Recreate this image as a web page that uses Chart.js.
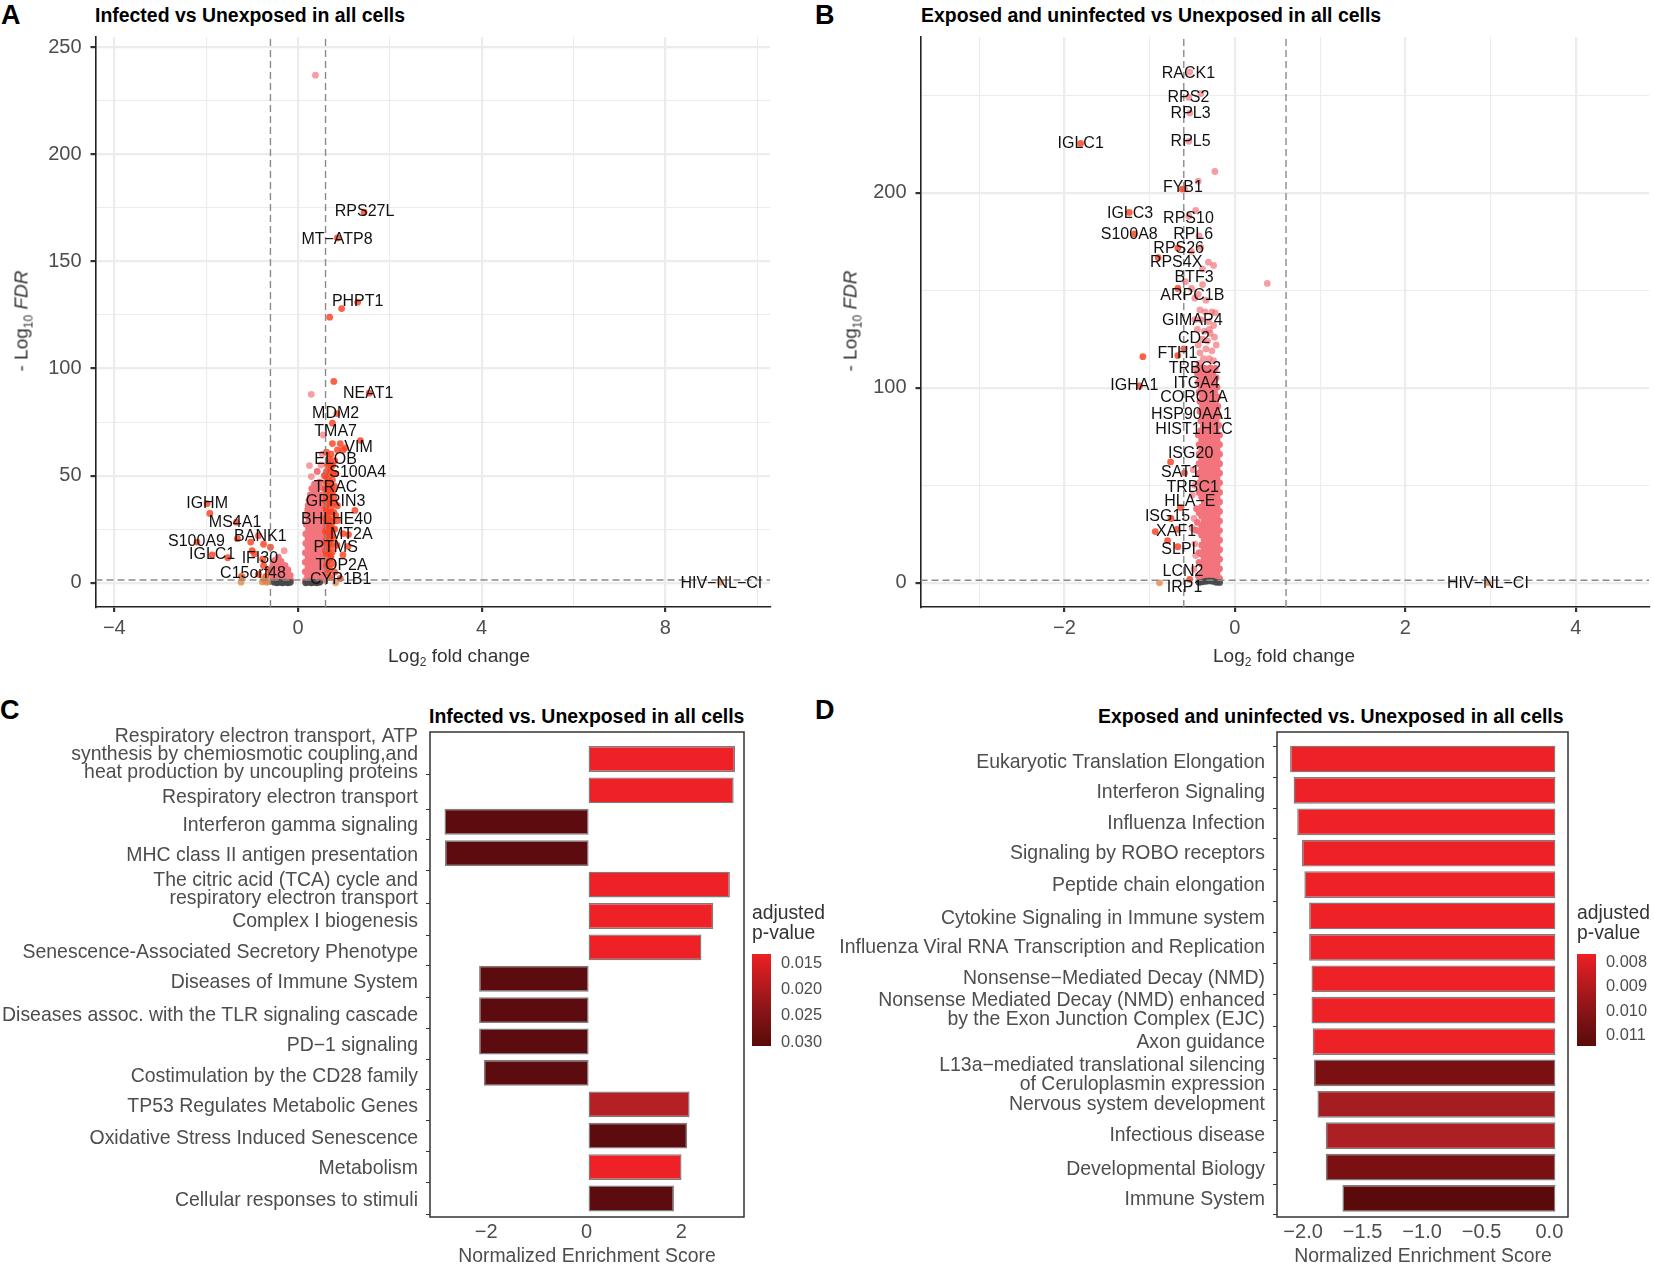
<!DOCTYPE html>
<html>
<head>
<meta charset="utf-8">
<title>Volcano plots and enrichment scores</title>
<script src="https://cdn.jsdelivr.net/npm/chart.js@4"></script>
<style>
  html, body { margin: 0; padding: 0; background: #fff; }
  body { position: relative; width: 1654px; height: 1267px; overflow: hidden; font-family: "Liberation Sans", Arial, sans-serif; }
  canvas { position: absolute; }
  .t { position: absolute; white-space: nowrap; line-height: 1; }
  .letter { font-weight: bold; font-size: 27px; color: #000; transform: translateY(-50%); }
  .title { font-weight: bold; font-size: 19.45px; color: #000; transform: translateY(-50%); }
  .axt { font-size: 19px; color: #333; transform: translate(-50%, -50%); }
  .gray { color: #4d4d4d; font-size: 19.4px; }
  .yt { transform: translate(-50%, -50%) rotate(-90deg); }
  sub { font-size: 12px; line-height: 0; }
  .leg { font-size: 19.3px; color: #333; line-height: 20px; transform: translateY(-50%); }
  .bar { position: absolute; top: 954px; height: 92px; width: 19px; background: linear-gradient(#ed2024, #8a1518 60%, #5a0a0a); }
  .lv { font-size: 16.4px; color: #4d4d4d; transform: translateY(-50%); }
</style>
</head>
<body>

<div class="t letter" style="left:1px;top:15px">A</div>
<div class="t letter" style="left:815px;top:15px">B</div>
<div class="t letter" style="left:0px;top:710px">C</div>
<div class="t letter" style="left:815px;top:710px">D</div>

<div class="t title" style="left:95px;top:16px">Infected vs Unexposed in all cells</div>
<div class="t title" style="left:921px;top:16px">Exposed and uninfected vs Unexposed in all cells</div>
<div class="t title" style="left:429px;top:717px">Infected vs. Unexposed in all cells</div>
<div class="t title" style="left:1098px;top:717px">Exposed and uninfected vs. Unexposed in all cells</div>

<canvas id="panelA" width="827" height="680" style="left:0;top:0"></canvas>
<canvas id="panelB" width="827" height="680" style="left:827px;top:0"></canvas>
<canvas id="panelC" width="827" height="567" style="left:0;top:700px"></canvas>
<canvas id="panelD" width="827" height="567" style="left:827px;top:700px"></canvas>

<div class="t axt" style="left:459px;top:655px">Log<sub>2</sub> fold change</div>
<div class="t axt" style="left:1284px;top:655px">Log<sub>2</sub> fold change</div>
<div class="t axt yt" style="left:21px;top:321px">- Log<sub>10</sub> <i>FDR</i></div>
<div class="t axt yt" style="left:850px;top:321px">- Log<sub>10</sub> <i>FDR</i></div>
<div class="t axt gray" style="left:587px;top:1256px">Normalized Enrichment Score</div>
<div class="t axt gray" style="left:1423px;top:1256px">Normalized Enrichment Score</div>

<div class="t leg" style="left:752px;top:923px">adjusted<br>p-value</div>
<div class="bar" style="left:752px"></div>
<div class="t lv" style="left:781px;top:962px">0.015</div>
<div class="t lv" style="left:781px;top:988px">0.020</div>
<div class="t lv" style="left:781px;top:1014px">0.025</div>
<div class="t lv" style="left:781px;top:1041px">0.030</div>

<div class="t leg" style="left:1577px;top:923px">adjusted<br>p-value</div>
<div class="bar" style="left:1577px"></div>
<div class="t lv" style="left:1606px;top:961px">0.008</div>
<div class="t lv" style="left:1606px;top:985px">0.009</div>
<div class="t lv" style="left:1606px;top:1010px">0.010</div>
<div class="t lv" style="left:1606px;top:1034px">0.011</div>

<script>
// Panel A points as [log2FC, -log10 FDR]
const aGrey = [[-.52,.3],[-.46,0],[-.4,.2],[-.34,0],[-.28,.3],[-.22,0],[-.17,.2],[.17,0],[.23,.3],[.29,0],[.35,.2],[.41,0],[.47,.3]];
const aTan = [[-1.24,.3],[-1.21,2.5],[-.78,.4],[-.72,.8],[-.68,.2],[-.63,.5],[-.75,1.8],[.82,0],[9.2,.3]];
const aRed = [[1.44,173],[.86,161],[1.3,131],[.95,128],[.69,124],[.78,94],[1.55,88.5],[.85,79],[.75,74.5],[1.36,66.4],[.75,65],[.92,65],[1.03,63],[.98,62],[.86,62],[.72,60],
  [.62,61],[.68,58],[.8,57],[.64,55],[.72,54],[.62,52],[.7,52],[.82,51],[.66,49],[.75,48],[.61,47],[.69,45],[.8,45],[.63,43],[.72,42],[.62,40],[.7,39],[.78,40],[.64,37],[.74,36],[.86,36],[1.24,33.8],
  [.61,35],[.68,33],[.78,33],[.63,31],[.72,30],[.86,29],[.61,28],[.68,27],[.75,25],[.62,25],[.7,23],[.98,23],[1.1,22.5],[.63,22],[.78,20.5],[.61,19.5],[.69,18],[.85,17.5],[1.09,17],[.64,16],[.75,14.5],[.62,13.5],[.98,13],[.7,11.5],[.64,10],[.75,9],[.62,8],[.69,6.5],[.63,4.5],[.8,5],[.92,2],[.7,2.5],
  [.66,56],[.76,55],[.6,50],[.76,51],[.67,46.5],[.6,44],[.73,44.5],[.66,41],[.76,42.5],[.6,38],[.68,37],[.8,37.5],[.62,34],[.72,33],[.82,31.5],[.66,30],[.76,28.5],[.6,30],[.64,26],[.72,26.5],[.8,25],[.66,23.5],[.6,24],[.74,22],[.68,20.5],[.62,18],[.76,17.5],[.66,14.5],[.6,15],[.72,12.5],
  [-1.98,37],[-1.92,32.4],[-1.34,28.3],[-1.32,20.6],[-2.2,19],[-1.87,13],[-1.53,11.7],[-1.03,19],[-.86,22],[-.75,18],[-.6,16.6],[-1,15],[-.77,11],[-.75,8],[-1.23,3],[-.86,4],[-.63,6],[-.95,13.5],[-.7,3]];
const aPinkSparse = [[.38,237],[.29,88],[.25,54.7],[.55,69],[.29,49.6],[.5,55],[.53,60],[-.3,15]];
const aPink = [[.42,52],[.47,47],[.36,46],[.57,50],
  [.3,44],[.4,44],[.5,44.5],[.57,44],[.27,41],[.36,41.5],[.45,41],[.54,41],[.24,38.5],[.33,38.5],[.42,38.8],[.51,38.5],[.58,38],
  [.22,36],[.3,36.2],[.39,36],[.48,36],[.56,36],[.21,34],[.31,33.8],[.42,34],[.52,34],[.19,31.5],[.29,31.7],[.39,31.5],[.49,31.6],[.58,31.5],
  [.24,29.5],[.34,29.4],[.44,29.5],[.54,29.3],[.18,27.3],[.28,27.2],[.39,27.4],[.5,27.2],[.58,27.3],[.23,25],[.33,25.1],[.44,25],[.55,25],
  [.17,22.8],[.28,22.9],[.38,22.7],[.49,22.8],[.58,22.8],[.22,20.6],[.33,20.5],[.44,20.7],[.55,20.6],[.17,18.4],[.27,18.3],[.38,18.5],[.49,18.4],[.58,18.3],
  [.22,16.2],[.33,16.1],[.44,16.2],[.55,16.3],[.16,14],[.27,13.9],[.38,14],[.49,14.1],[.58,14],[.22,11.8],[.33,11.7],[.44,11.8],[.55,11.8],
  [.16,9.6],[.27,9.5],[.38,9.6],[.49,9.7],[.58,9.5],[.22,7.4],[.33,7.3],[.44,7.4],[.55,7.4],[.16,5.2],[.27,5.1],[.38,5.2],[.49,5.1],[.58,5.3],[.21,3],[.32,3],[.43,3.1],[.54,3],[.16,1],[.27,1.1],[.38,1],[.49,1],[.58,1.2],
  [-.43,12],[-.5,10.5],[-.37,10],[-.45,8.5],[-.55,8],[-.28,8],[-.35,7.5],[-.5,6],[-.42,6],[-.22,6],[-.3,5.5],[-.58,5],[-.47,4],[-.37,4],[-.25,4],[-.17,3.5],[-.55,2.8],[-.43,2.5],[-.31,2.5],[-.2,2],[-.52,1.5],[-.4,1.2],[-.28,1.2],[-.16,1.2]];

const aLabels = ['RPS27L','MT−ATP8','PHPT1','NEAT1','MDM2','TMA7','VIM','ELOB','S100A4','TRAC','GPRIN3','IGHM','BHLHE40','MS4A1','MT2A','BANK1','S100A9','PTMS','IGLC1','IFI30','TOP2A','C15orf48','CYP1B1','HIV−NL−CI'];
const aLabelX = [1.45,.85,1.3,1.53,.82,.82,1.32,.82,1.3,.82,.82,-1.98,.84,-1.37,1.16,-.82,-2.21,.82,-1.87,-.83,.95,-.98,.93,9.22];
const aLabelY = [173.3,160.3,131.2,88.5,79,70.6,63.2,57.3,51.6,44.5,37.9,36.8,29.6,27.9,22.5,21.7,19.2,16.2,13,11.1,8.1,4.5,1.6,-.2];

// Panel B points
const bGrey = [[-.42,.2],[-.38,.5],[-.34,.8],[-.3,1],[-.26,.8],[-.22,.3],[-.18,.2]];
const bTan = [[-.885,0],[2.97,0]];
const bRed = [[-1.81,225.4],[-1.24,190],[-1.18,179],[-.9,166.8],[-.67,171.7],[-.67,151],[-.67,116.6],[-1.08,116],[-1.12,101],[-.755,62],[-.59,56.4],[-.64,38.6],[-.75,33],[-.935,26.3],[-.68,27.4],[-.79,21.6],[-.67,18.5],[-.53,1.8],[-.6,120],[-.62,202]];
const bPinkSparse = [[-.53,262],[-.4,251],[-.54,249],[-.53,241],[-.54,226.5],[-.235,211],[-.43,206],[-.59,202],[-.46,191],[-.54,188],[-.42,178],[-.51,170],[-.4,172],[-.31,164.5],[-.25,162.8],[-.38,161],[.38,153.6],[-.58,154.5],[-.51,151],[-.38,153],[-.43,148],[-.34,145],[-.47,146],
  [-.41,140],[-.35,139],[-.27,139],[-.23,138.5],[-.4,135],[-.31,134],[-.25,132],[-.44,130],[-.36,129],[-.29,128],[-.38,125],[-.24,126],[-.32,124],[-.43,122],[-.34,120],[-.27,119],[-.41,118],[-.37,115],[-.3,115],[-.25,114],[-.42,112.5],[-.47,135],[-.3,130],[-.22,122],[-.46,110],[-.49,58],[-.47,50],[-.5,45],[-.48,33],[-.5,28],[-.47,20],[-.46,14],[-.48,7]];
const bPink = [[-.23,110],[-.29,110.3],[-.35,110],[-.41,110.2],[-.26,107.6],[-.32,107.5],[-.38,107.8],[-.44,107.5],[-.22,105.2],[-.28,105],[-.34,105.3],[-.4,105.1],[-.25,102.7],[-.31,102.8],[-.37,102.6],[-.43,102.8],
  [-.21,100.3],[-.27,100.2],[-.33,100.4],[-.39,100.2],[-.24,97.8],[-.3,97.9],[-.36,97.8],[-.42,97.7],[-.2,95.4],[-.26,95.3],[-.32,95.5],[-.38,95.3],[-.23,92.9],[-.29,93],[-.35,92.8],[-.41,93],
  [-.2,90.5],[-.26,90.4],[-.32,90.6],[-.38,90.4],[-.23,88],[-.29,88.1],[-.35,88],[-.41,87.9],[-.19,85.6],[-.25,85.5],[-.31,85.7],[-.37,85.5],[-.22,83.1],[-.28,83.2],[-.34,83],[-.4,83.2],
  [-.19,80.7],[-.25,80.6],[-.31,80.8],[-.37,80.6],[-.22,78.2],[-.28,78.3],[-.34,78.2],[-.4,78.1],[-.18,75.8],[-.24,75.7],[-.3,75.9],[-.36,75.7],[-.43,75.8],[-.21,73.3],[-.27,73.4],[-.33,73.2],[-.39,73.4],
  [-.18,70.9],[-.24,70.8],[-.3,71],[-.36,70.8],[-.42,70.9],[-.21,68.4],[-.27,68.5],[-.33,68.4],[-.39,68.3],[-.18,66],[-.24,65.9],[-.3,66.1],[-.36,65.9],[-.42,66],[-.21,63.5],[-.27,63.6],[-.33,63.4],[-.39,63.6],
  [-.18,61.1],[-.24,61],[-.3,61.2],[-.36,61],[-.42,61.1],[-.21,58.6],[-.27,58.7],[-.33,58.6],[-.39,58.5],[-.18,56.2],[-.24,56.1],[-.3,56.3],[-.36,56.1],[-.42,56.2],[-.21,53.7],[-.27,53.8],[-.33,53.6],[-.39,53.8],
  [-.18,51.3],[-.24,51.2],[-.3,51.4],[-.36,51.2],[-.42,51.3],[-.21,48.8],[-.27,48.9],[-.33,48.8],[-.39,48.7],[-.18,46.4],[-.24,46.3],[-.3,46.5],[-.36,46.3],[-.42,46.4],[-.21,43.9],[-.27,44],[-.33,43.8],[-.39,44],
  [-.18,41.5],[-.24,41.4],[-.3,41.6],[-.36,41.4],[-.21,39],[-.27,39.1],[-.33,39],[-.39,38.9],[-.45,38],[-.18,36.6],[-.24,36.5],[-.3,36.7],[-.36,36.5],[-.42,36],[-.21,34.1],[-.27,34.2],[-.33,34],[-.39,34.2],
  [-.18,31.7],[-.24,31.6],[-.3,31.8],[-.36,31.6],[-.44,31],[-.21,29.2],[-.27,29.3],[-.33,29.2],[-.39,29.1],[-.18,26.8],[-.24,26.7],[-.3,26.9],[-.36,26.7],[-.46,27],[-.42,26.5],[-.21,24.3],[-.27,24.4],[-.33,24.2],[-.39,24.4],
  [-.18,21.9],[-.24,21.8],[-.3,22],[-.36,21.8],[-.21,19.4],[-.27,19.5],[-.33,19.4],[-.39,19.3],[-.18,17],[-.24,16.9],[-.3,17.1],[-.36,16.9],[-.42,15.5],[-.21,14.5],[-.27,14.6],[-.33,14.4],[-.39,14.6],
  [-.18,12.1],[-.24,12],[-.3,12.2],[-.36,12],[-.42,10.5],[-.21,9.6],[-.27,9.7],[-.33,9.6],[-.39,9.5],[-.18,7.2],[-.24,7.1],[-.3,7.3],[-.36,7.1],[-.21,4.7],[-.27,4.8],[-.33,4.6],[-.39,4.8],[-.18,2.3],[-.24,2.2],[-.3,2.4],[-.36,2.2],[-.43,3.5]];

const bLabels = ['RACK1','RPS2','RPL3','IGLC1','RPL5','FYB1','IGLC3','RPS10','S100A8','RPL6','RPS26','RPS4X','BTF3','ARPC1B','GIMAP4','CD2','FTH1','TRBC2','ITGA4','IGHA1','CORO1A','HSP90AA1','HIST1H1C','ISG20','SAT1','TRBC1','HLA−E','ISG15','XAF1','SLPI','LCN2','HIV−NL−CI','IRP1'];
const bLabelX = [-.545,-.545,-.52,-1.81,-.52,-.61,-1.23,-.545,-1.24,-.49,-.66,-.69,-.48,-.5,-.5,-.48,-.675,-.47,-.45,-1.18,-.48,-.51,-.48,-.52,-.64,-.495,-.53,-.79,-.69,-.66,-.61,2.97,-.59];
const bLabelY = [261.3,248.8,240.8,225.2,226.5,202.5,189.3,187.1,178.8,178.4,171.7,164.1,156.5,147.2,134.4,125.3,117.7,110.1,102.3,101.2,94.8,86.3,78.5,66.4,56.4,48.8,41.7,34.1,26.5,16.9,6,-.2,-2.2];

// Panel C
const cTerms = [['Respiratory electron transport, ATP','synthesis by chemiosmotic coupling,and','heat production by uncoupling proteins'],'Respiratory electron transport','Interferon gamma signaling','MHC class II antigen presentation',['The citric acid (TCA) cycle and','respiratory electron transport'],'Complex I biogenesis','Senescence-Associated Secretory Phenotype','Diseases of Immune System','Diseases assoc. with the TLR signaling cascade','PD−1 signaling','Costimulation by the CD28 family','TP53 Regulates Metabolic Genes','Oxidative Stress Induced Senescence','Metabolism','Cellular responses to stimuli'];
// term labels do not sit exactly on their bars in the picture
const cTermPos = [-.2,1.17,2.07,3.03,4.1,5.13,6.1,7.07,8.1,9.07,10.07,11,12.03,13,14];
const cNes = [3.09,3.06,-3.04,-3.03,2.98,2.63,2.38,-2.31,-2.31,-2.31,-2.21,2.13,2.08,1.96,1.8];
const cColors = ['#ed2126','#ed2126','#5c0c0e','#5c0c0e','#ed2126','#ed2126','#ed2126','#5c0c0e','#5c0c0e','#5c0c0e','#5c0c0e','#b52025','#5c0c0e','#ed2126','#5c0c0e'];
const cTicks = [-2,0,2];

// Panel D
const dTerms = ['Eukaryotic Translation Elongation','Interferon Signaling','Influenza Infection','Signaling by ROBO receptors','Peptide chain elongation','Cytokine Signaling in Immune system','Influenza Viral RNA Transcription and Replication','Nonsense−Mediated Decay (NMD)',['Nonsense Mediated Decay (NMD) enhanced','by the Exon Junction Complex (EJC)'],'Axon guidance',['L13a−mediated translational silencing','of Ceruloplasmin expression'],'Nervous system development','Infectious disease','Developmental Biology','Immune System'];
const dTermPos = [.1,1.07,2.07,3,4.03,5.07,6,7,8,9.03,10.07,11,12,13.07,14.03];
const dNes = [-2.23,-2.2,-2.17,-2.13,-2.11,-2.07,-2.07,-2.05,-2.05,-2.04,-2.03,-2,-1.93,-1.93,-1.79];
const dColors = ['#ed2126','#ed2126','#ed2126','#ed2126','#ed2126','#ed2126','#ed2126','#ed2126','#ed2126','#ed2126','#7a1012','#a61d21','#ae1f23','#7a1012','#5a0a0b'];
const dTicks = [-2,-1.5,-1,-.5,0];

const toPts = list => list.map(p => ({x: p[0], y: p[1]}));
const minus = s => s.replace('-', '−');
const FONT = '"Liberation Sans", Arial, sans-serif';

Chart.defaults.animation = false;
Chart.defaults.font.family = FONT;

// draws the gene names at their data positions
const geneLabelPlugin = {
    id: 'geneLabels',
    afterDatasetsDraw(chart, args, opts) {
        const ctx = chart.ctx;
        ctx.save();
        ctx.font = '16px ' + FONT;
        ctx.fillStyle = '#111';
        ctx.textAlign = 'center';
        ctx.textBaseline = 'middle';
        opts.names.forEach((name, i) => {
            ctx.fillText(name, chart.scales.x.getPixelForValue(opts.xs[i]), chart.scales.y.getPixelForValue(opts.ys[i]));
        });
        ctx.restore();
    }
};

// frame around the enrichment panels
const boxPlugin = {
    id: 'panelBox',
    afterDraw(chart) {
        const a = chart.chartArea, ctx = chart.ctx;
        ctx.save();
        ctx.strokeStyle = '#333';
        ctx.lineWidth = 1.5;
        ctx.strokeRect(a.left, a.top, a.right - a.left, a.bottom - a.top);
        ctx.restore();
    }
};

function volcano(id, c) {
    const isMajor = (v, list) => list.includes(v);
    const dash = (x0, y0, x1, y1) => ({
        type: 'scatter', data: [{x: x0, y: y0}, {x: x1, y: y1}], showLine: true, pointRadius: 0,
        borderColor: '#8a8a8a', borderWidth: 1.4, borderDash: [7, 4]
    });
    const dots = (list, color) => ({data: toPts(list), backgroundColor: color, borderWidth: 0, pointRadius: 3.4});
    new Chart(document.getElementById(id), {
        type: 'scatter',
        data: {datasets: [
            dash(-.6, c.yRange[0], -.6, c.yRange[1]),
            dash(.6, c.yRange[0], .6, c.yRange[1]),
            dash(c.xRange[0], 1.3, c.xRange[1], 1.3),
            dots(c.grey, 'rgba(72,72,72,.95)'),
            dots(c.tan, 'rgba(226,134,70,.75)'),
            dots(c.red, 'rgba(250,68,36,.84)'),
            dots(c.sparse, 'rgba(243,108,116,.66)'),
            dots(c.pink, 'rgb(243,116,124)')
        ]},
        options: {
            responsive: false,
            layout: {padding: {left: 0, top: c.top, right: c.right, bottom: 0}},
            plugins: {legend: {display: false}, tooltip: {enabled: false}, geneLabels: c.labels},
            scales: {
                x: {
                    type: 'linear', min: c.xRange[0], max: c.xRange[1],
                    afterFit: s => { s.height = 680 - 607; },
                    afterBuildTicks: s => { s.ticks = c.xMajor.concat(c.xMinor).map(v => ({value: v})); },
                    border: {display: true, color: '#222', width: 1.6},
                    grid: {
                        color: '#ececec',
                        lineWidth: t => isMajor(t.tick.value, c.xMajor) ? 2.2 : 1.1,
                        tickColor: t => isMajor(t.tick.value, c.xMajor) ? '#333' : 'rgba(0,0,0,0)',
                        tickLength: 5
                    },
                    ticks: {
                        autoSkip: false, maxRotation: 0, color: '#4d4d4d', font: {size: 20}, padding: 4,
                        callback: v => isMajor(v, c.xMajor) ? minus(String(v)) : ''
                    }
                },
                y: {
                    type: 'linear', min: c.yRange[0], max: c.yRange[1],
                    afterFit: s => { s.width = c.left; },
                    afterBuildTicks: s => { s.ticks = c.yMajor.concat(c.yMinor).map(v => ({value: v})); },
                    border: {display: true, color: '#222', width: 1.6},
                    grid: {
                        color: '#ececec',
                        lineWidth: t => isMajor(t.tick.value, c.yMajor) ? 2.2 : 1.1,
                        tickColor: t => isMajor(t.tick.value, c.yMajor) ? '#333' : 'rgba(0,0,0,0)',
                        tickLength: 5
                    },
                    ticks: {
                        autoSkip: false, color: '#4d4d4d', font: {size: 20}, padding: 9,
                        callback: v => isMajor(v, c.yMajor) ? String(v) : ''
                    }
                }
            }
        },
        plugins: [geneLabelPlugin]
    });
}

function enrichment(id, c) {
    new Chart(document.getElementById(id), {
        type: 'bar',
        data: {datasets: [{
            data: c.nes.map((v, i) => ({x: v, y: i})),
            backgroundColor: c.colors,
            borderColor: '#7d7d7d',
            borderWidth: 1.4,
            borderSkipped: false,
            categoryPercentage: 1,
            barPercentage: .915
        }]},
        options: {
            responsive: false,
            indexAxis: 'y',
            layout: {padding: {left: 0, top: 32, right: c.right, bottom: 0}},
            plugins: {legend: {display: false}, tooltip: {enabled: false}},
            scales: {
                x: {
                    type: 'linear', min: c.xRange[0], max: c.xRange[1],
                    afterFit: s => { s.height = 567 - 517; },
                    afterBuildTicks: s => { s.ticks = c.ticks.map(v => ({value: v})); },
                    grid: {display: false, drawTicks: false},
                    border: {display: false},
                    ticks: {
                        autoSkip: false, maxRotation: 0, color: '#4d4d4d', font: {size: 20}, padding: 3,
                        labelOffset: c.labelOffset,
                        // the minus labels sit further left than the rest in the picture
                        callback: v => v < 0 ? minus(c.format(v)) + c.minusPad : c.format(v)
                    }
                },
                y: {
                    type: 'linear', reverse: true, min: -.86, max: 14.59, offset: false,
                    afterFit: s => { s.width = c.left; },
                    afterBuildTicks: s => { s.ticks = c.termPos.map(v => ({value: v})); },
                    grid: {drawOnChartArea: false, tickColor: '#333', tickLength: 4},
                    border: {display: false},
                    ticks: {
                        autoSkip: false, color: '#4d4d4d', padding: 8, labelOffset: c.termOffset,
                        font: {size: 19.45, lineHeight: .93},
                        callback: (v, i) => c.terms[i]
                    }
                }
            }
        },
        plugins: [boxPlugin]
    });
}

volcano('panelA', {
    grey: aGrey, tan: aTan, red: aRed, sparse: aPinkSparse, pink: aPink,
    labels: {names: aLabels, xs: aLabelX, ys: aLabelY},
    xRange: [-4.41, 10.28], yRange: [-11.3, 254.8],
    xMajor: [-4, 0, 4, 8], xMinor: [-2, 2, 6, 10],
    yMajor: [0, 50, 100, 150, 200, 250], yMinor: [25, 75, 125, 175, 225],
    left: 95.5, top: 37, right: 57
});
volcano('panelB', {
    grey: bGrey, tan: bTan, red: bRed, sparse: bPinkSparse, pink: bPink,
    labels: {names: bLabels, xs: bLabelX, ys: bLabelY},
    xRange: [-3.69, 4.86], yRange: [-12.4, 280],
    xMajor: [-2, 0, 2, 4], xMinor: [-3, -1, 1, 3],
    yMajor: [0, 100, 200], yMinor: [50, 150, 250],
    left: 93.5, top: 37, right: 5
});
enrichment('panelC', {
    terms: cTerms, termPos: cTermPos, nes: cNes, colors: cColors, ticks: cTicks,
    xRange: [-3.346, 3.278], left: 430, right: 83, labelOffset: -2, termOffset: 2, minusPad: '  ',
    format: v => String(v)
});
enrichment('panelD', {
    terms: dTerms, termPos: dTermPos, nes: dNes, colors: dColors, ticks: dTicks,
    xRange: [-2.34, .106], left: 450, right: 86, labelOffset: -6, termOffset: 0, minusPad: '   ',
    format: v => v.toFixed(1)
});
</script>
</body>
</html>
